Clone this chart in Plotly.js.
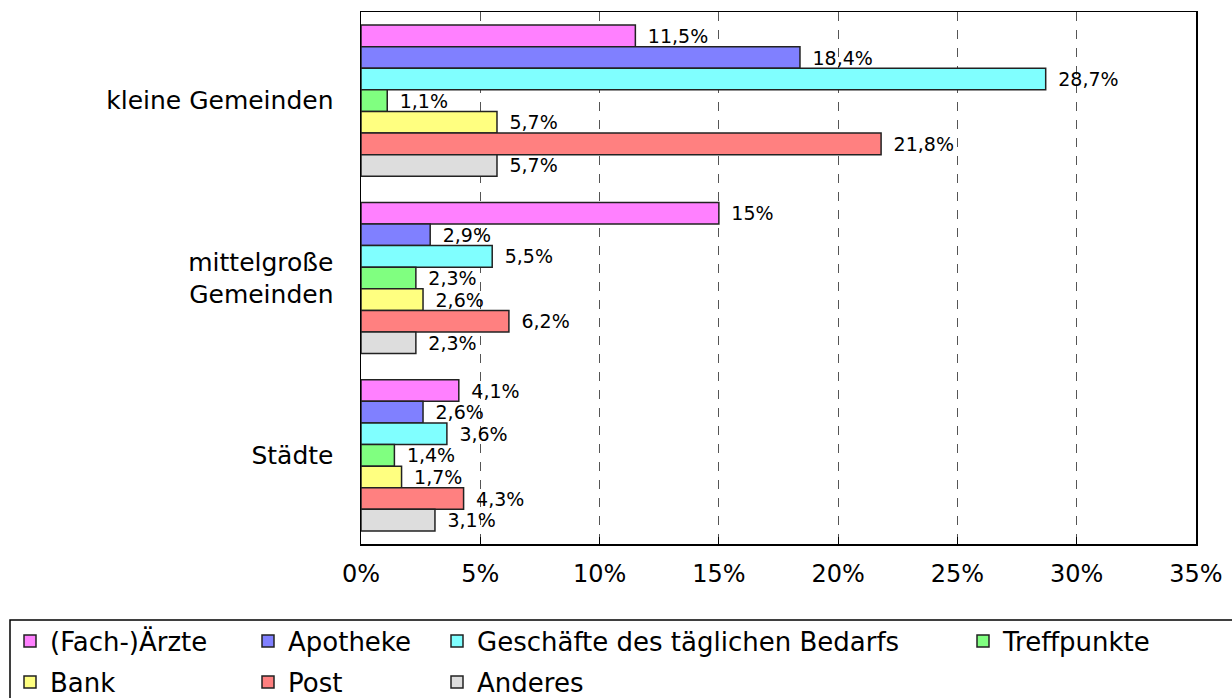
<!DOCTYPE html>
<html>
<head>
<meta charset="utf-8">
<script src="https://cdn.plot.ly/plotly-3.0.1.min.js"></script>
<style>html,body{margin:0;padding:0;background:#fff;}#chart{width:1232px;height:698px;}</style>
</head>
<body>
<div id="chart"></div>
<script>
const categories = ["kleine Gemeinden", "mittelgroße<br>Gemeinden", "Städte"];
const seriesNames = ["(Fach-)Ärzte", "Apotheke", "Geschäfte des täglichen Bedarfs", "Treffpunkte", "Bank", "Post", "Anderes"];
const aerzte      = [11.5, 15.0, 4.1];
const apotheke    = [18.4, 2.9, 2.6];
const geschaefte  = [28.7, 5.5, 3.6];
const treffpunkte = [1.1, 2.3, 1.4];
const bank        = [5.7, 2.6, 1.7];
const post        = [21.8, 6.2, 4.3];
const anderes     = [5.7, 2.3, 3.1];
const xTicks = [0, 5, 10, 15, 20, 25, 30, 35];
const xTickLabels = ["0%", "5%", "10%", "15%", "20%", "25%", "30%", "35%"];

const seriesValues = [aerzte, apotheke, geschaefte, treffpunkte, bank, post, anderes];
const colors = ["#ff80ff", "#8080ff", "#80ffff", "#80ff80", "#ffff80", "#ff8080", "#dddddd"];

// legend placement (pixel -> paper)
const L = 361, R = 1196, T = 12, B = 544;
const pxX = px => (px - L) / (R - L);
const pxY = py => (B - py) / (B - T);
const legendPos = [
  [10, 641], [248, 641], [437, 641], [963, 641],
  [10, 682], [248, 682], [437, 682]
];

const font = "DejaVu Sans, Verdana, sans-serif";
const fmt = v => "\u2002" + String(v).replace(".", ",") + "%";

const traces = seriesNames.map((name, i) => ({
  type: "bar",
  orientation: "h",
  name: name,
  y: categories,
  x: seriesValues[i],
  text: seriesValues[i].map(fmt),
  textposition: "outside",
  constraintext: "none",
  cliponaxis: false,
  textfont: {family: font, size: 19, color: "#000"},
  marker: {color: colors[i], line: {color: "#222", width: 1.5}},
  legend: i === 0 ? "legend" : "legend" + (i + 1),
  hoverinfo: "x+name"
}));

const layout = {
  width: 1232, height: 698,
  margin: {l: L, r: 1232 - R, t: T, b: 698 - B, autoexpand: false},
  paper_bgcolor: "#fff", plot_bgcolor: "#fff",
  font: {family: font, color: "#000"},
  barmode: "group",
  bargap: 0.148,
  bargroupgap: 0,
  xaxis: {
    range: [0, 35],
    tickmode: "array",
    tickvals: xTicks,
    ticktext: xTickLabels,
    ticks: "inside", ticklen: 7, tickcolor: "#000", tickwidth: 1,
    ticklabelstandoff: 8,
    tickfont: {family: font, size: 24, color: "#000"},
    showgrid: true, gridcolor: "#555", griddash: "dash", gridwidth: 1,
    zeroline: false,
    showline: true, linecolor: "#000", linewidth: 1.5, mirror: true
  },
  yaxis: {
    type: "category",
    autorange: "reversed",
    ticks: "",
    ticklabelstandoff: 21,
    tickfont: {family: font, size: 25, color: "#000"},
    showgrid: false, zeroline: false,
    showline: true, linecolor: "#000", linewidth: 1.5, mirror: true
  },
  showlegend: true,
  shapes: [{
    type: "rect", xref: "paper", yref: "paper",
    x0: pxX(10), x1: pxX(1245), y0: pxY(620), y1: pxY(712),
    line: {color: "#000", width: 1.5}, fillcolor: "rgba(0,0,0,0)", layer: "above"
  }]
};

legendPos.forEach((p, i) => {
  const key = i === 0 ? "legend" : "legend" + (i + 1);
  layout[key] = {
    x: pxX(p[0]), y: pxY(p[1]),
    xanchor: "left", yanchor: "middle",
    orientation: "v",
    bgcolor: "rgba(0,0,0,0)",
    borderwidth: 0,
    font: {family: font, size: 26, color: "#000"},
    itemclick: false, itemdoubleclick: false
  };
});

Plotly.newPlot("chart", traces, layout, {displayModeBar: false, staticPlot: true});
</script>
</body>
</html>
